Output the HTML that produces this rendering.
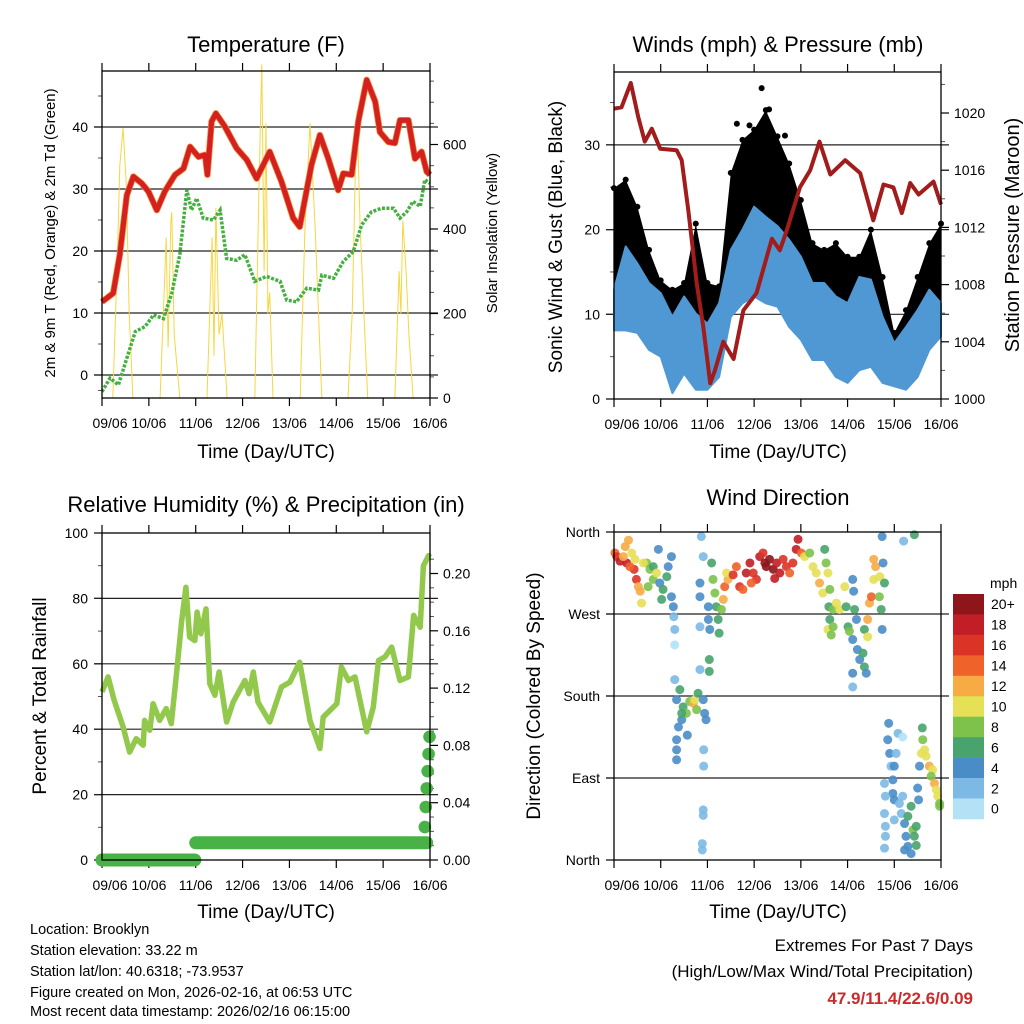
<!DOCTYPE html>
<html><head><meta charset="utf-8"><style>
html,body{margin:0;padding:0;background:#fff}
svg{display:block;font-family:"Liberation Sans",Arial,sans-serif}
</style></head><body>
<svg id="root" width="1024" height="1024" viewBox="0 0 1024 1024" xmlns="http://www.w3.org/2000/svg">
<rect x="0" y="0" width="1024" height="1024" fill="#fff"/>
<g font-size="22" text-anchor="middle" fill="#000">
<text x="266" y="52">Temperature (F)</text>
<text x="778" y="52">Winds (mph) &amp; Pressure (mb)</text>
<text x="266" y="512">Relative Humidity (%) &amp; Precipitation (in)</text>
<text x="778" y="505">Wind Direction</text>
</g>
<g font-size="19" text-anchor="middle">
<text x="266" y="458">Time (Day/UTC)</text>
<text x="778" y="458">Time (Day/UTC)</text>
<text x="266" y="918">Time (Day/UTC)</text>
<text x="778" y="918">Time (Day/UTC)</text>
<text transform="translate(55,233) rotate(-90)" font-size="15">2m &amp; 9m T (Red, Orange) &amp; 2m Td (Green)</text>
<text transform="translate(497,233) rotate(-90)" font-size="15">Solar Insolation (Yellow)</text>
<text transform="translate(562,237) rotate(-90)" font-size="19">Sonic Wind &amp; Gust (Blue, Black)</text>
<text transform="translate(1019,235) rotate(-90)" font-size="20">Station Pressure (Maroon)</text>
<text transform="translate(46,696) rotate(-90)" font-size="19">Percent &amp; Total Rainfall</text>
<text transform="translate(540,696) rotate(-90)" font-size="19">Direction (Colored By Speed)</text>
</g>
<g font-size="14.5">
<text x="30" y="934">Location: Brooklyn</text>
<text x="30" y="955">Station elevation: 33.22 m</text>
<text x="30" y="976">Station lat/lon: 40.6318; -73.9537</text>
<text x="30" y="997">Figure created on Mon, 2026-02-16, at 06:53 UTC</text>
<text x="30" y="1016">Most recent data timestamp: 2026/02/16 06:15:00</text>
</g>
<g font-size="17" text-anchor="end">
<text x="973" y="951">Extremes For Past 7 Days</text>
<text x="973" y="977">(High/Low/Max Wind/Total Precipitation)</text>
<text x="973" y="1004" font-weight="bold" fill="#cc2b2b">47.9/11.4/22.6/0.09</text>
</g>
<text x="990" y="588" font-size="14">mph</text>
</svg>
<script>
// ---------- data ----------
const dayLabels=['09/06','10/06','11/06','12/06','13/06','14/06','15/06','16/06'];
const tempT=[0,0.24,0.38,0.53,0.67,0.85,0.99,1.17,1.34,1.56,1.74,1.88,2.06,2.2,2.25,2.34,2.43,2.62,2.87,3.09,3.3,3.58,3.83,4.08,4.22,4.47,4.65,4.83,5.04,5.15,5.33,5.47,5.65,5.83,5.93,6.11,6.25,6.36,6.54,6.68,6.82,6.93,7.0];
const tempV=[11.8,13.2,19.4,29,32,30.9,29.6,26.6,29.6,32.3,33.3,36.8,35.2,35.5,32.3,40.9,42.2,40.1,36.6,34.7,31.7,36,31.2,25.3,23.9,33.9,38.7,34.9,29.8,32.5,32.3,40.9,47.6,44.1,39.2,37.6,37.4,41.1,41.1,34.9,36,32.8,32.3];
const dewT=[0,0.17,0.35,0.53,0.71,0.92,1.1,1.31,1.49,1.66,1.81,1.91,2.02,2.16,2.38,2.52,2.66,2.87,3.05,3.26,3.51,3.8,3.94,4.15,4.37,4.62,4.69,4.94,5.15,5.36,5.54,5.75,5.97,6.22,6.36,6.5,6.64,6.79,6.89,7.0];
const dewV=[-2.7,-0.5,-1.6,2.7,7,7.8,9.7,9.1,13.2,19.4,29.8,26.6,28.5,25.3,25,26.6,18.8,18.5,19.4,15.1,15.9,15.1,12.1,11.8,14,13.7,16.1,15.6,18.3,19.9,24.2,26.3,26.9,26.9,25.3,26.3,28,27.2,31.5,30.9];
const solarT=[0.23,0.32,0.38,0.45,0.52,0.58,0.66, 1.24,1.37,1.41,1.47,1.49,1.54,1.66, 2.24,2.35,2.39,2.43,2.5,2.56,2.67, 3.26,3.35,3.41,3.46,3.5,3.54,3.58,3.65, 4.23,4.33,4.44,4.55,4.69, 5.25,5.34,5.4,5.44,5.51,5.59,5.67, 6.25,6.34,6.38,6.42,6.49,6.55,6.64];
const solarV=[0,300,550,640,500,200,0, 0,380,120,420,440,150,0, 0,380,100,450,150,200,0, 0,500,790,300,650,200,250,0, 0,400,650,400,0, 0,200,500,680,400,200,0, 0,300,200,420,300,150,0];

const windT=[0,0.25,0.5,0.75,1,1.25,1.5,1.75,2,2.25,2.5,2.75,3,3.25,3.5,3.75,4,4.25,4.5,4.75,5,5.25,5.5,5.75,6,6.25,6.5,6.75,7];
const windLo=[8.1,8.1,7.8,5.8,5,0.7,3,1.1,1.1,2.6,9.7,11.3,12.1,11.3,10.9,8.5,7,4.6,4.6,2.6,1.9,3.4,3.8,1.9,1.5,1.1,2.6,5.8,7.4];
const windHi=[12.9,18,16,13.7,12.5,9.7,12.1,10.1,8.9,11.3,17.6,20,22.7,21.5,20.4,18.8,16.8,13.7,13.7,12.1,11.3,14.4,14.1,9.7,6.6,8.5,10.5,12.9,11.3];
const gustHi=[24.9,25.9,22.7,17.6,14,12.9,13.7,20.7,13.7,13.3,26.7,30.6,31.8,34.1,31,27.8,23.5,18.4,17.6,18.4,16.8,16.8,20,14.4,7.8,10.5,14.4,18.4,20.7];
const gustOutT=[3.16,3.32,2.63,2.9,3.66];
const gustOutV=[36.7,34.2,32.5,32.3,31.1];
const presT=[0,0.16,0.36,0.52,0.66,0.81,0.99,1.34,1.45,1.59,1.77,1.91,2.06,2.16,2.34,2.56,2.77,3.05,3.38,3.55,3.7,3.98,4.2,4.4,4.63,4.95,5.27,5.55,5.77,5.98,6.16,6.34,6.52,6.84,7.0];
const presV=[1020.3,1020.4,1022.1,1019.7,1018,1018.9,1017.5,1017.4,1016.7,1013.2,1008.1,1005.1,1001.1,1002,1004,1002.8,1006.2,1007.4,1011.2,1010.4,1011.8,1014.8,1016,1018,1015.7,1016.7,1015.8,1012.5,1015,1014.8,1013,1015.1,1014.3,1015.2,1013.6];

const rhT=[0,0.13,0.26,0.45,0.59,0.73,0.88,0.91,1.02,1.09,1.23,1.37,1.48,1.59,1.7,1.79,1.87,1.98,2.03,2.11,2.22,2.3,2.41,2.5,2.66,2.8,3.05,3.14,3.23,3.33,3.58,3.83,4.01,4.22,4.44,4.65,4.72,5.01,5.11,5.26,5.4,5.65,5.79,5.9,6.04,6.18,6.36,6.54,6.65,6.79,6.86,6.97,7.0];
const rhV=[51.4,56,48.8,40.7,33,37.1,35.1,42.7,39.7,47.8,42.7,46.3,41.7,57,73.2,83.4,68.2,67.1,75.8,69.2,76.8,53.9,50.4,57.5,42.2,48.3,54.9,50.9,57.5,48.3,42.2,52.9,54.4,60.5,42.7,34.1,43.7,47.8,59,54.9,56,39.2,46.8,61,62.1,65.1,54.9,56,74.8,71.2,90,93.1,92.6];
const precipT=[0,1.98,2.0,6.93,6.89,6.91,6.93,6.95,6.97,6.99];
const precipV=[0,0,0.012,0.012,0.023,0.037,0.050,0.062,0.074,0.086];

const dirT=[0.02,0.06,0.13,0.24,0.31,0.27,0.38,0.43,0.48,0.52,0.56,0.59,0.45,0.34,0.2,
0.7,0.77,0.84,0.84,0.95,0.98,1.05,1.13,1.16,1.23,1.23,1.27,0.73,0.91,1.02,0.63,
1.28,1.3,1.3,1.3,
1.34,1.41,1.48,1.45,1.38,1.34,1.34,1.34,1.55,1.62,1.7,1.73,1.8,1.77,1.57,1.45,
1.87,1.91,1.84,1.84,1.84,1.84,1.91,1.94,1.97,1.92,1.92,1.91,1.91,1.89,1.89,
2.09,2.12,2.16,2.19,2.23,2.25,2.02,2.05,2.02,2.04,2.04,2.3,
2.34,2.37,2.44,2.41,2.55,2.62,2.69,2.76,2.83,2.91,2.98,3.05,3.12,3.19,3.26,3.33,3.41,3.48,3.55,3.62,3.69,3.76,3.83,3.9,3.94,4.01,3.44,3.23,2.94,
4.08,4.19,4.26,4.33,4.4,4.47,4.51,4.54,4.58,4.62,4.6,4.62,4.69,4.76,4.83,4.58,4.69,4.65,
4.94,4.97,5.01,5.04,5.11,5.13,5.15,5.19,5.11,5.21,5.26,5.33,5.36,5.4,5.11,5.11,5.36,
5.43,5.47,5.51,5.56,5.6,5.56,5.69,5.68,5.72,5.76,5.79,5.74,5.43,5.74,6.2,6.43,
5.88,5.86,5.9,5.93,5.97,5.97,6.0,6.04,6.08,6.18,5.79,5.81,5.79,5.81,5.81,5.79,6.11,6.18,6.15,6.22,6.25,6.29,6.22,6.36,6.4,6.43,6.47,6.36,6.47,6.29,6.0,6.52,6.5,6.0,
6.6,6.61,6.58,6.65,6.68,6.75,6.82,6.79,6.86,6.9,6.93,6.97,6.97,6.54];
const dirV=[337,333,328,344,351,326,337,319,308,300,295,282,330,322,333,
326,319,322,308,341,304,297,311,322,333,289,278,300,315,286,326,
267,253,236,198,
176,187,168,154,146,132,121,110,161,174,172,176,183,165,137,161,
355,333,304,289,256,209,176,161,154,121,103,55,49,18,11,
326,308,293,278,264,249,278,253,264,220,207,275,
286,300,308,315,313,322,300,297,315,326,315,308,333,337,322,330,319,326,315,330,322,315,326,341,352,337,309,326,304,
333,337,322,315,304,293,341,326,315,297,278,264,275,282,275,253,256,247,
300,278,256,251,308,295,275,264,242,231,220,227,212,205,190,205,253,
264,282,289,308,322,330,311,289,275,326,304,253,245,355,350,357,
150,132,117,103,88,73,66,117,139,135,84,70,51,37,26,13,62,70,51,40,26,15,11,59,33,26,16,7,37,48,44,66,79,103,
145,132,117,121,114,103,99,92,84,77,70,62,59,103];
const dirS=[14,16,18,12,12,18,10,16,16,12,12,10,10,14,12,
8,8,6,8,4,4,6,6,4,4,4,4,8,10,6,10,
2,2,0,2,
4,6,6,4,4,4,4,4,8,8,12,10,6,8,4,6,
2,2,4,4,2,2,4,4,4,2,2,2,2,2,2,
6,8,8,6,6,6,4,4,4,6,6,8,
12,14,12,10,16,14,16,14,18,18,16,16,18,16,20,20,20,18,18,16,16,14,16,18,18,14,18,20,14,
10,8,10,10,12,10,6,8,10,8,6,6,8,10,10,10,8,8,
10,6,6,8,4,4,6,4,4,4,4,6,6,4,2,4,6,
12,12,14,10,12,12,10,8,6,4,6,4,10,4,2,6,
4,4,4,2,4,4,4,2,2,0,2,2,2,2,2,2,2,2,2,4,4,4,4,6,8,6,6,4,6,6,2,4,4,4,
6,8,10,10,10,12,10,8,12,10,10,8,8,4];
const speedBins=['0','2','4','6','8','10','12','14','16','18','20+'];
const dirLabels=['North','East','South','West','North'];

// ---------- helpers ----------
const NS='http://www.w3.org/2000/svg';
const root=document.getElementById('root');
function add(tag,attrs,name,parent){
  const el=document.createElementNS(NS,tag);
  for(const k in attrs) el.setAttribute(k,attrs[k]);
  
  
  (parent||root).appendChild(el);
  return el;
}
function txt(x,y,s,name,anchor,size){
  const t=add('text',{x:x,y:y,'font-size':size||14,'text-anchor':anchor||'middle'},name);
  t.textContent=s;return t;
}
function pts(T,V,fx,fy){return T.map((t,i)=>fx(t).toFixed(1)+','+fy(V[i]).toFixed(1)).join(' ');}

function frame(P,prefix){
  const xs=t=>P.x0+t/7*(P.x1-P.x0);
  for(let i=0;i<8;i++){
    const x=xs(i);
    add('line',{x1:x,y1:P.y1,x2:x,y2:P.y1+8,stroke:'#000','stroke-width':1.2},prefix+'-x-tick');
    add('line',{x1:x,y1:P.y0,x2:x,y2:P.y0-8,stroke:'#000','stroke-width':1.2},prefix+'-x-tick-top');
    let lx=x; if(i===0) lx=x+8; if(i===7) lx=x;
    txt(lx,P.y1+30,dayLabels[i],prefix+'-x-tick-label','middle',14);
  }
  return xs;
}
function yAxis(P,prefix,vals,labels,fy,side,minor,grid){
  vals.forEach((v,i)=>{
    const y=fy(v);
    if(side==='left'){
      add('line',{x1:P.x0-8,y1:y,x2:P.x0,y2:y,stroke:'#000','stroke-width':1.2},prefix+'-y-tick');
      if(grid && y>P.y0+2 && y<P.y1-2) add('line',{x1:P.x0-8,y1:y,x2:P.x1+8,y2:y,stroke:'#222','stroke-width':1.2},prefix+'-gridline');
      txt(P.x0-14,y+5,labels[i],prefix+'-y-tick-label','end',14);
    } else {
      add('line',{x1:P.x1,y1:y,x2:P.x1+8,y2:y,stroke:'#000','stroke-width':1.2},prefix+'-right-tick');
      txt(P.x1+13,y+5,labels[i],prefix+'-right-tick-label','start',14);
    }
  });
  (minor||[]).forEach(v=>{
    const y=fy(v); if(y<P.y0||y>P.y1) return;
    if(side==='left') add('line',{x1:P.x0-4,y1:y,x2:P.x0,y2:y,stroke:'#555','stroke-width':1},prefix+'-y-minor-tick');
    else add('line',{x1:P.x1,y1:y,x2:P.x1+4,y2:y,stroke:'#555','stroke-width':1},prefix+'-right-minor-tick');
  });
}
function box(P,name){
  add('rect',{x:P.x0,y:P.y0,width:P.x1-P.x0,height:P.y1-P.y0,fill:'none',stroke:'#000','stroke-width':1.3},name);
}

// ---------- panel 1: temperature ----------
{
const P={x0:102,x1:430,y0:71,y1:398};
const xs=frame(P,'temp');
const yT=v=>375-6.2*v, yS=v=>398-0.4225*v;
yAxis(P,'temp',[0,10,20,30,40],['0','10','20','30','40'],yT,'left',[-2.5,5,15,25,35,45],true);
yAxis(P,'solar',[0,200,400,600],['0','200','400','600'],yS,'right',[50,100,150,250,300,350,450,500,550,650,700,750]);
add('polyline',{points:pts(solarT,solarV,xs,yS),fill:'none',stroke:'#f7d640','stroke-width':1},'solar-insolation-line');
add('polyline',{points:pts(dewT,dewV,xs,yT),fill:'none',stroke:'#45b040','stroke-width':3.5,'stroke-dasharray':'3 1.5'},'dewpoint-line');
add('polyline',{points:pts(tempT,tempV,xs,yT),fill:'none',stroke:'#f08a30','stroke-width':6.5,'stroke-linejoin':'round'},'temp-9m-line');
add('polyline',{points:pts(tempT,tempV,xs,yT),fill:'none',stroke:'#d42020','stroke-width':5,'stroke-linejoin':'round'},'temp-2m-line');
box(P,'temp-plot-frame');
}

// ---------- panel 2: winds & pressure ----------
{
const P={x0:614,x1:941,y0:72,y1:399};
const xs=frame(P,'wind');
const yW=v=>399-8.47*v, yP=p=>399-14.3*(p-1000);
yAxis(P,'wind',[0,10,20,30],['0','10','20','30'],yW,'left',[5,15,25,35],true);
yAxis(P,'pressure',[1000,1004,1008,1012,1016,1020],['1000','1004','1008','1012','1016','1020'],yP,'right',[1002,1006,1010,1014,1018,1022]);
const gustPoly=windT.map((t,i)=>xs(t).toFixed(1)+','+yW(gustHi[i]).toFixed(1)).join(' ')+' '+windT.slice().reverse().map((t,j)=>{const i=windT.length-1-j;return xs(t).toFixed(1)+','+yW(windLo[i]).toFixed(1);}).join(' ');
add('polygon',{points:gustPoly,fill:'#000'},'gust-band');
windT.forEach((t,i)=>{
  add('circle',{cx:xs(t),cy:yW(gustHi[i]),r:3},'gust-point');
});
gustOutT.forEach((t,i)=>{
  add('circle',{cx:xs(t),cy:yW(gustOutV[i]),r:3},'gust-outlier-point');
});
const windPoly=windT.map((t,i)=>xs(t).toFixed(1)+','+yW(windHi[i]).toFixed(1)).join(' ')+' '+windT.slice().reverse().map((t,j)=>{const i=windT.length-1-j;return xs(t).toFixed(1)+','+yW(windLo[i]).toFixed(1);}).join(' ');
add('polygon',{points:windPoly,fill:'#4f98d3',stroke:'#4f98d3','stroke-width':2,'stroke-linejoin':'round'},'sonic-wind-band');
add('polyline',{points:pts(presT,presV,xs,yP),fill:'none',stroke:'#a21c1c','stroke-width':4,'stroke-linejoin':'round'},'pressure-line');
box(P,'wind-plot-frame');
}

// ---------- panel 3: humidity & precip ----------
{
const P={x0:102,x1:430,y0:533,y1:860};
const xs=frame(P,'rh');
const yR=v=>860-3.27*v, yPr=v=>860-1432.5*v;
yAxis(P,'rh',[0,20,40,60,80,100],['0','20','40','60','80','100'],yR,'left',[10,30,50,70,90],true);
yAxis(P,'precip',[0,0.04,0.08,0.12,0.16,0.20],['0.00','0.04','0.08','0.12','0.16','0.20'],yPr,'right',[0.01,0.02,0.03,0.05,0.06,0.07,0.09,0.10,0.11,0.13,0.14,0.15,0.17,0.18,0.19,0.21]);
add('polyline',{points:pts(rhT,rhV,xs,yR),fill:'none',stroke:'#92c94c','stroke-width':5.5,'stroke-linejoin':'round'},'humidity-line');
for(let i=0;i<precipT.length;i++){
  if(i+1<precipT.length && precipV[i+1]===precipV[i]){
    add('line',{x1:xs(precipT[i]),y1:yPr(precipV[i]),x2:xs(precipT[i+1]),y2:yPr(precipV[i+1]),stroke:'#48b247','stroke-width':13,'stroke-linecap':'round'},'precip-segment');
  } else if(i===0 || precipV[i-1]!==precipV[i]){
    add('circle',{cx:xs(precipT[i]),cy:yPr(precipV[i]),r:6.3,fill:'#48b247'},'precip-point');
  }
}
box(P,'rh-plot-frame');
}

// ---------- panel 4: wind direction ----------
{
const P={x0:614,x1:941,y0:532,y1:860};
const xs=frame(P,'dir');
const yD=d=>860-0.9111*d;
yAxis(P,'dir',[0,90,180,270,360],dirLabels,yD,'left',[],true);
const colors=['#b3e2f7','#7cb9e4','#4a8dc6','#48a46c','#7cc24b','#e5e055','#f6ab45','#ef6229','#dc3327','#c11e27','#8e1519'];
dirT.forEach((t,i)=>{
  const b=Math.min(10,Math.floor(dirS[i]/2));
  add('circle',{cx:xs(t),cy:yD(dirV[i]),r:4.5,fill:colors[b],'fill-opacity':0.9},'direction-point');
});
box(P,'dir-plot-frame');
const cbTop=594, h=20.45;
for(let k=0;k<11;k++){
  const idx=10-k;
  add('rect',{x:953,y:cbTop+k*h,width:31,height:h+0.3,fill:colors[idx]},'colorbar-swatch');
  txt(991,cbTop+k*h+h/2+5,speedBins[idx],'colorbar-label','start',14);
}
}
</script>
</body></html>
